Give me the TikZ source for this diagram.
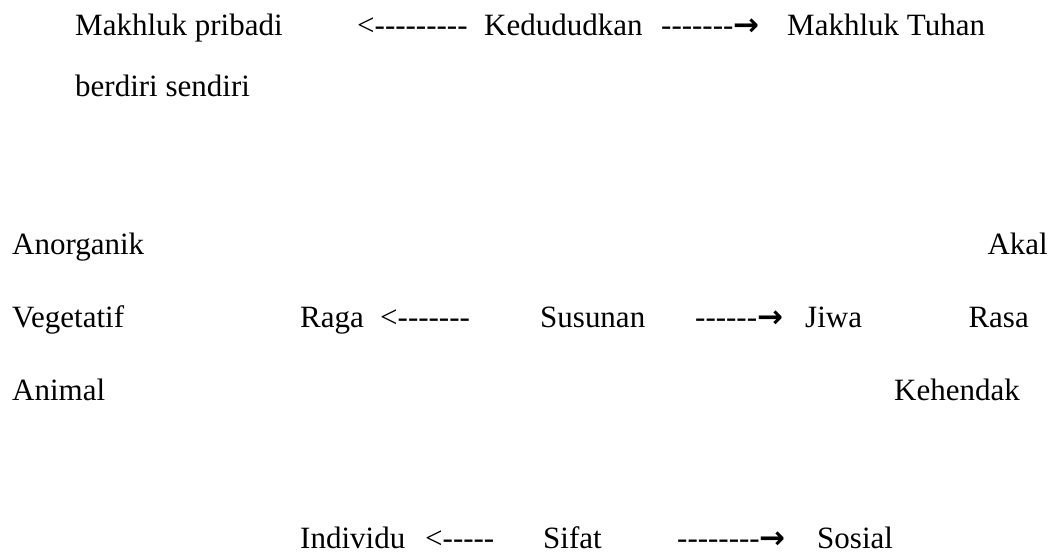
\documentclass[tikz,border=0pt]{standalone}
\usepackage{fontspec}
\setmainfont{Liberation Serif}[Ligatures=TeXOff]
\newfontfamily\arrowfont{DejaVu Sans}
\newcommand{\kanan}{{\arrowfont\bfseries →}}

\begin{document}
\begin{tikzpicture}[x=1pt, y=-1pt,
		lbl/.style={anchor=base west, inner sep=0pt, font=\fontsize{31}{37}\selectfont},
		lblr/.style={lbl, anchor=base east}]
			\useasboundingbox (0,0) rectangle (1053,554);

			\node[lbl] (pribadi) at (75,35) {Makhluk pribadi};
			\node[lbl] (kiri1) at (357,35) {<---------};
			\node[lbl] (kedudukan) at (484,35) {Kedududkan};
			\node[lbl] (kanan1) at (661,35) {-------\kanan};
			\node[lbl] (tuhan) at (787,35) {Makhluk Tuhan};
			\node[lbl] (sendiri) at (75,96) {berdiri sendiri};

			\node[lbl] (anorganik) at (12,254) {Anorganik};
			\node[lbl] (vegetatif) at (12,327) {Vegetatif};
			\node[lbl] (animal) at (12,400) {Animal};

			\node[lbl] (raga) at (300,327) {Raga};
			\node[lbl] (kiri2) at (380,327) {<-------};
			\node[lbl] (susunan) at (540,327) {Susunan};
			\node[lbl] (kanan2) at (695,327) {------\kanan};
			\node[lbl] (jiwa) at (805,327) {Jiwa};

			\node[lblr] (akal) at (1048,254) {Akal};
			\node[lblr] (rasa) at (1029,327) {Rasa};
			\node[lblr] (kehendak) at (1020,400) {Kehendak};

			\node[lbl] (individu) at (300,548) {Individu};
			\node[lbl] (kiri3) at (425,548) {<-----};
			\node[lbl] (sifat) at (543,548) {Sifat};
			\node[lbl] (kanan3) at (677,548) {--------\kanan};
			\node[lbl] (sosial) at (817,548) {Sosial};
		\end{tikzpicture}
\end{document}
